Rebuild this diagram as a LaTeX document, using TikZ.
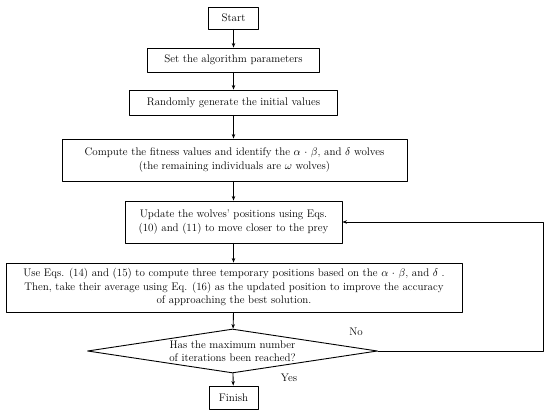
\documentclass[tikz,border=0pt]{standalone}
\usetikzlibrary{shapes.geometric,arrows.meta}
\begin{document}
\begin{tikzpicture}[x=1pt, y=1pt, line cap=round, line join=round]
% Flowchart of the grey wolf optimiser
\providecommand{\gwoLineWidth}{0.9pt}
\providecommand{\gwoFont}{\fontsize{11}{13.5}\selectfont}
\tikzset{
  gwobox/.style={draw, line width=\gwoLineWidth, align=center, inner sep=0pt, font=\gwoFont},
  gwodecide/.style={draw, line width=\gwoLineWidth, diamond, aspect=6.6, align=center, inner sep=-3pt, font=\gwoFont},
  gwoarrow/.style={draw, line width=\gwoLineWidth, -{Stealth[length=4.5pt, width=3.5pt]}},
  gwolabel/.style={font=\gwoFont}
}
\useasboundingbox (0,0) rectangle (550,416);
% Process boxes
\node[gwobox, minimum width=50, minimum height=22] (start) at (233.5,398) {Start};
\node[gwobox, minimum width=172, minimum height=24] (params) at (233.5,356) {Set the algorithm parameters};
\node[gwobox, minimum width=208, minimum height=25] (init) at (233.5,313.5) {Randomly generate the initial values};
\node[gwobox, minimum width=345, minimum height=42] (fitness) at (234.5,256)
  {Compute the fitness values and identify the $\alpha$ $\cdot$ $\beta$, and $\delta$ wolves\\
   (the remaining individuals are $\omega$ wolves)};
\node[gwobox, minimum width=217, minimum height=42] (update) at (233.5,194)
  {Update the wolves' positions using Eqs.\\(10) and (11) to move closer to the prey};
\node[gwobox, minimum width=456, minimum height=49] (average) at (234,128.5)
  {Use Eqs. (14) and (15) to compute three temporary positions based on the $\alpha$ $\cdot$ $\beta$, and $\delta$ .\\
   Then, take their average using Eq. (16) as the updated position to improve the accuracy\\
   of approaching the best solution.};
% Decision
\node[gwodecide, minimum width=290, minimum height=44] (decide) at (232.5,65)
  {Has the maximum number\\of iterations been reached?};
\node[gwobox, minimum width=49, minimum height=23] (finish) at (233.5,18.5) {Finish};
% Connectors
\draw[gwoarrow] (start) -- (params);
\draw[gwoarrow] (params) -- (init);
\draw[gwoarrow] (init) -- (fitness.north -| init.south);
\draw[gwoarrow] (fitness.south -| update.north) -- (update);
\draw[gwoarrow] (update) -- (average.north -| update.south);
\draw[gwoarrow] (average.south -| update.south) -- (decide);
\draw[gwoarrow] (decide) -- (finish);
% Loop back
\coordinate (loop) at (543,65);
\draw[gwoarrow] (decide.east) -- (loop) |- (update.east);
\node[gwolabel] (no) at (356,84) {No};
\node[gwolabel] (yes) at (289,38) {Yes};
\end{tikzpicture}
\end{document}
